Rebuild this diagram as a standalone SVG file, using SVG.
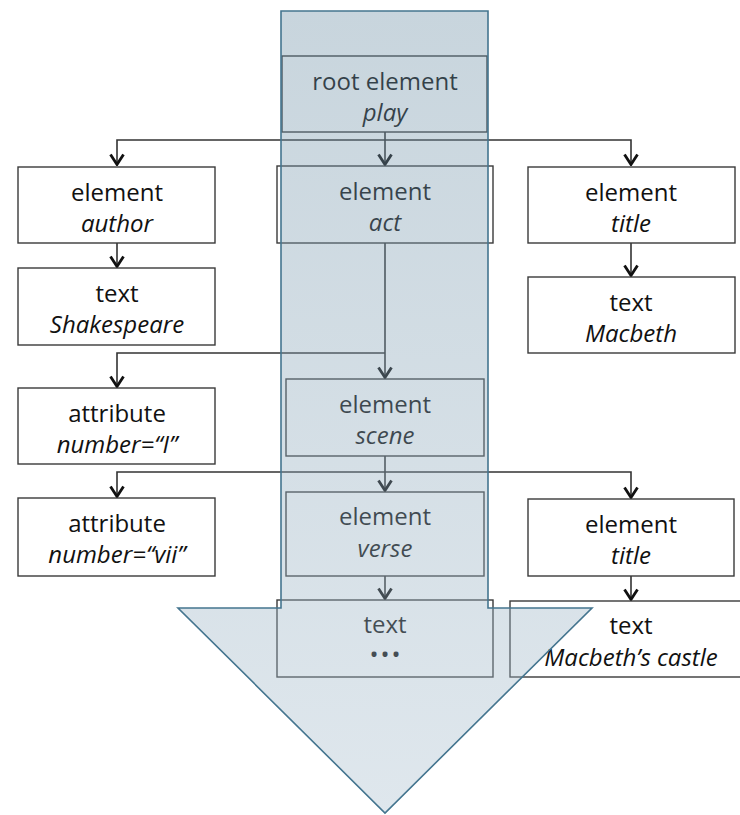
<svg xmlns="http://www.w3.org/2000/svg" width="740" height="815" viewBox="0 0 740 815">
<style>
.box{fill:#ffffff;stroke:#3a3a3a;stroke-width:1.4}
.t{font-family:"Open Sans","Liberation Sans",sans-serif;font-size:24px;fill:#111;text-anchor:middle}
.i{font-style:italic}
.c{fill:none;stroke:#333;stroke-width:1.6;marker-end:url(#ah)}
</style>
<defs>
<marker id="ah" viewBox="0 0 13 16" refX="12" refY="8" markerWidth="13" markerHeight="16" orient="auto" markerUnits="userSpaceOnUse">
<path d="M1.5,1.5 L11.5,8 L1.5,14.5" fill="none" stroke="#111" stroke-width="2.8"/>
</marker>
<linearGradient id="g" gradientUnits="userSpaceOnUse" x1="0" y1="11" x2="0" y2="813">
<stop offset="0" stop-color="#6a8da3"/>
<stop offset="1" stop-color="#a8bece"/>
</linearGradient>
</defs>
<rect width="740" height="815" fill="#ffffff"/>
<g id="connectors">
<path class="c" d="M385,132 V165"/>
<path class="c" d="M385,140 H117 V165"/>
<path class="c" d="M385,140 H631 V165"/>
<path class="c" d="M117,243 V267"/>
<path class="c" d="M631,243 V276"/>
<path class="c" d="M385,243 V378"/>
<path class="c" d="M385,353 H117 V387"/>
<path class="c" d="M385,456 V491"/>
<path class="c" d="M385,472 H117 V497"/>
<path class="c" d="M385,472 H631 V498"/>
<path class="c" d="M385,576 V599"/>
<path class="c" d="M631,576 V600"/>
</g>
<g id="root">
<rect class="box" x="282" y="56" width="205" height="76"/>
<text class="t" x="385" y="90">root element</text>
<text class="t i" x="385" y="121">play</text>
</g>
<g id="author">
<rect class="box" x="18" y="167" width="197" height="76"/>
<text class="t" x="117" y="201">element</text>
<text class="t i" x="117" y="232">author</text>
</g>
<g id="act">
<rect class="box" x="277" y="166" width="216" height="77"/>
<text class="t" x="385" y="200">element</text>
<text class="t i" x="385" y="231">act</text>
</g>
<g id="title1">
<rect class="box" x="528" y="167" width="207" height="76"/>
<text class="t" x="631" y="201">element</text>
<text class="t i" x="631" y="232">title</text>
</g>
<g id="shakespeare">
<rect class="box" x="18" y="268" width="197" height="77"/>
<text class="t" x="117" y="302">text</text>
<text class="t i" x="117" y="333">Shakespeare</text>
</g>
<g id="macbeth">
<rect class="box" x="528" y="277" width="207" height="76"/>
<text class="t" x="631" y="311">text</text>
<text class="t i" x="631" y="342">Macbeth</text>
</g>
<g id="attrI">
<rect class="box" x="18" y="388" width="197" height="76"/>
<text class="t" x="117" y="422">attribute</text>
<text class="t i" x="117" y="453">number=“I”</text>
</g>
<g id="scene">
<rect class="box" x="286" y="379" width="198" height="77"/>
<text class="t" x="385" y="413">element</text>
<text class="t i" x="385" y="444">scene</text>
</g>
<g id="attrVII">
<rect class="box" x="18" y="498" width="197" height="78"/>
<text class="t" x="117" y="532">attribute</text>
<text class="t i" x="117" y="563">number=“vii”</text>
</g>
<g id="verse">
<rect class="box" x="286" y="492" width="198" height="84"/>
<text class="t" x="385" y="525">element</text>
<text class="t i" x="385" y="557">verse</text>
</g>
<g id="title2">
<rect class="box" x="528" y="499" width="206" height="77"/>
<text class="t" x="631" y="533">element</text>
<text class="t i" x="631" y="564">title</text>
</g>
<g id="textdots">
<rect class="box" x="277" y="600" width="216" height="77"/>
<text class="t" x="385" y="633">text</text>
<text class="t" x="386" y="663" font-size="18" letter-spacing="2">•••</text>
</g>
<g id="castle">
<rect class="box" x="510" y="601" width="242" height="76"/>
<text class="t" x="631" y="634">text</text>
<text class="t i" x="631" y="666">Macbeth’s castle</text>
</g>
<g id="flow-arrow">
<path d="M281,11 H488 V608 H592 L385,813 L178,608 H281 Z" fill="url(#g)" fill-opacity="0.37" stroke="#44758f" stroke-width="1.6" stroke-linejoin="miter"/>
</g>
</svg>
